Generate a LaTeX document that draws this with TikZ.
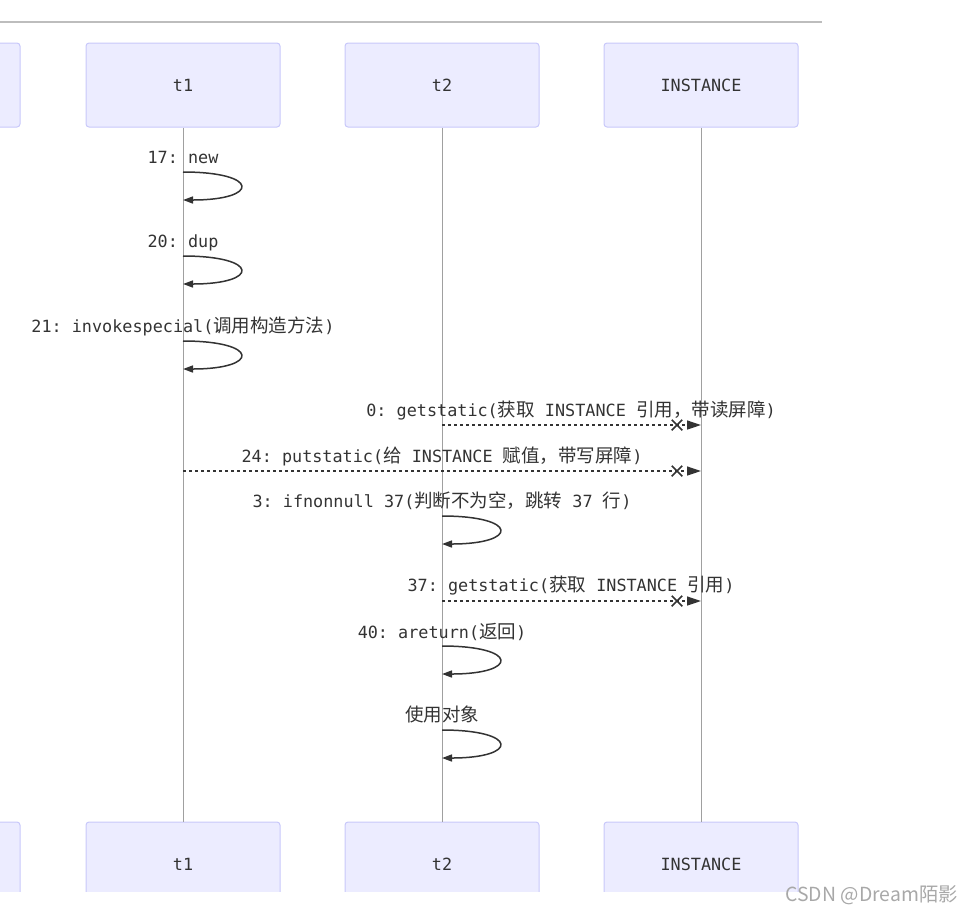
\documentclass[tikz,border=0pt]{standalone}
\usepackage{fontspec}
\setmonofont{DejaVu Sans Mono}
\newfontfamily\cjk{Noto Sans CJK SC}
\usetikzlibrary{arrows.meta,positioning,shapes.misc}
\definecolor{actfill}{HTML}{ECECFF}
\definecolor{actline}{HTML}{C8C8FA}
\definecolor{msgline}{HTML}{333333}
\definecolor{lifeline}{HTML}{A0A0A0}
\definecolor{rulegray}{HTML}{BDBDBD}
\definecolor{markgray}{HTML}{A8A8A8}
\newcommand{\zh}[1]{{\cjk\fontsize{18.5}{22}\selectfont #1}}

\begin{document}
\begin{tikzpicture}[x=1pt,y=-1pt,
  actor/.style={draw=actline, fill=actfill, rounded corners=3pt, line width=1pt,
                minimum width=194pt, minimum height=84pt, text=msgline,
                font=\fontsize{16.8}{20}\selectfont\ttfamily},
  life/.style={draw=lifeline, line width=0.9pt},
  lbl/.style={anchor=base, inner sep=0pt, text=msgline,
              font=\fontsize{16.8}{20}\selectfont\ttfamily},
  selfmsg/.style={draw=msgline, line width=1.5pt,
                  -{Triangle[length=10pt,width=7pt]}},
  asyncmsg/.style={draw=msgline, line width=1.3pt, dash pattern=on 3pt off 3pt,
                   -{Triangle[length=14pt,width=9pt]}},
  xmark/.style={cross out, draw=msgline, line width=1.5pt, minimum size=9pt,
                inner sep=0pt}]
\useasboundingbox (0,0) rectangle (974,914);
% rule above the diagram
\draw[rulegray, line width=2pt] (0,22) -- (822,22);

% participants
\node[actor] (t0top) at (-77,85) {};
\node[actor] (t1top) at (183,85) {t1};
\node[actor] (t2top) at (442,85) {t2};
\node[actor] (intop) at (701,85) {INSTANCE};
\begin{scope}
  \clip (-200,0) rectangle (974,891);
  \node[actor] (t0bot) at (-77,864) {};
  \node[actor] (t1bot) at (183,864) {t1};
  \node[actor] (t2bot) at (442,864) {t2};
  \node[actor] (inbot) at (701,864) {INSTANCE};
\end{scope}
\draw[life] (t1top) -- (t1bot);
\draw[life] (t2top) -- (t2bot);
\draw[life] (intop) -- (inbot);

% labels
\node[lbl] (l17) at (183,163) {17: new};
\node[lbl] (l20) at (183,247) {20: dup};
\node[lbl] (l21) at (183,332) {21: invokespecial(\zh{调用构造方法})};
\node[lbl] (l0)  at (571,416) {0: getstatic(\zh{获取} INSTANCE \zh{引用，带读屏障})};
\node[lbl] (l24) at (442,462) {24: putstatic(\zh{给} INSTANCE \zh{赋值，带写屏障})};
\node[lbl] (l3)  at (442,507) {3: ifnonnull 37(\zh{判断不为空，跳转} 37 \zh{行})};
\node[lbl] (l37) at (571,591) {37: getstatic(\zh{获取} INSTANCE \zh{引用})};
\node[lbl] (l40) at (442,638) {40: areturn(\zh{返回})};
\node[lbl] (luse) at (442,721) {\zh{使用对象}};

% message end points
\coordinate (s17a) at (183,172); \coordinate (s17b) at (183,200);
\coordinate (s20a) at (183,256); \coordinate (s20b) at (183,284);
\coordinate (s21a) at (183,341); \coordinate (s21b) at (183,369);
\coordinate (g0a)  at (442,425); \coordinate (g0b)  at (701,425);
\coordinate (p24a) at (183,471); \coordinate (p24b) at (701,471);
\coordinate (s3a)  at (442,516); \coordinate (s3b)  at (442,544);
\coordinate (g37a) at (442,601); \coordinate (g37b) at (701,601);
\coordinate (s40a) at (442,646); \coordinate (s40b) at (442,674);
\coordinate (susa) at (442,730); \coordinate (susb) at (442,758);

% self calls
\draw[selfmsg] (s17a) .. controls +(77,0) and +(77,0) .. (s17b);
\draw[selfmsg] (s20a) .. controls +(77,0) and +(77,0) .. (s20b);
\draw[selfmsg] (s21a) .. controls +(77,0) and +(77,0) .. (s21b);
\draw[selfmsg] (s3a) .. controls +(77,0) and +(77,0) .. (s3b);
\draw[selfmsg] (s40a) .. controls +(77,0) and +(77,0) .. (s40b);
\draw[selfmsg] (susa) .. controls +(77,0) and +(77,0) .. (susb);

% calls to INSTANCE
\draw[asyncmsg] (g0a) -- (g0b);
\draw[asyncmsg] (p24a) -- (p24b);
\draw[asyncmsg] (g37a) -- (g37b);
\node[xmark] (x0)  at (677,425) {};
\node[xmark] (x24) at (677,471) {};
\node[xmark] (x37) at (677,601) {};

% watermark
\node[anchor=east, inner sep=0pt, text=markgray, font=\cjk\fontsize{19.4}{23}\selectfont]
  (mark) at (958,895) {CSDN @Dream陌影};
\end{tikzpicture}
\end{document}
